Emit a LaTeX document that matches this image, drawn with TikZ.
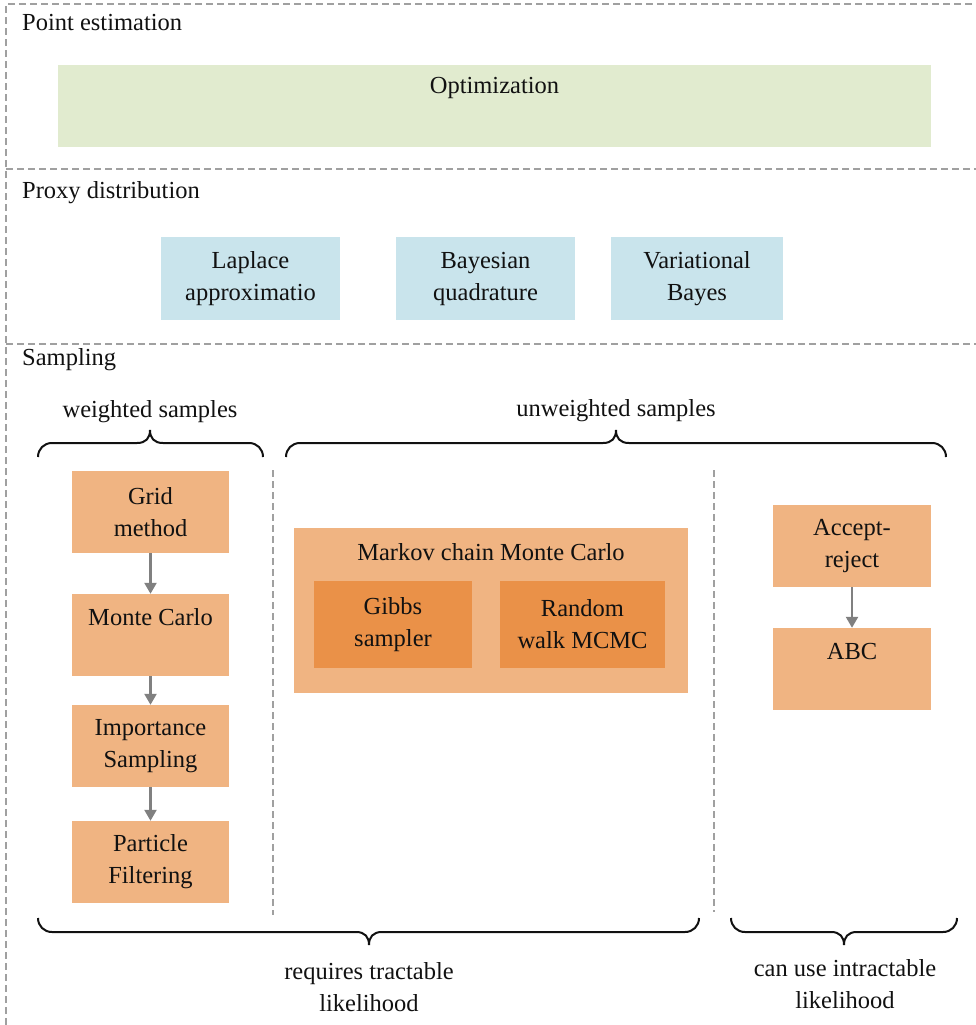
\documentclass[tikz,border=0pt]{standalone}
\usepackage{fontspec}
\setmainfont{Liberation Serif}
\usetikzlibrary{arrows.meta}
\definecolor{greenbox}{HTML}{E1EBCF}
\definecolor{bluebox}{HTML}{C9E4EC}
\definecolor{orangelight}{HTML}{F0B482}
\definecolor{orangedark}{HTML}{EA9148}
\definecolor{txt}{HTML}{111111}
\definecolor{dashgray}{HTML}{A0A0A0}
\definecolor{arrgray}{HTML}{808080}
\newcommand{\mybrace}[5]{%
  \draw[bracestyle] ({#1},{#4+14*(#5)}) .. controls ({#1},{#4+6*(#5)}) and ({#1+6},{#4}) .. ({#1+14},{#4})
    -- ({#3-13},{#4}) .. controls ({#3-4},{#4}) and ({#3},{#4-5*(#5)}) .. ({#3},{#4-13*(#5)})
    .. controls ({#3},{#4-5*(#5)}) and ({#3+4},{#4}) .. ({#3+13},{#4})
    -- ({#2-14},{#4}) .. controls ({#2-6},{#4}) and ({#2},{#4+6*(#5)}) .. ({#2},{#4+14*(#5)});}
\begin{document}
\begin{tikzpicture}[x=1pt,y=-1pt,
  every node/.style={font=\fontsize{24.5}{32}\selectfont, text=txt, inner sep=0pt},
  boxnode/.style={rectangle, align=center, minimum width=#1},
  sep/.style={draw=dashgray, line width=2pt, dash pattern=on 7pt off 4pt},
  bracestyle/.style={draw=txt, line width=2pt},
  arr/.style={draw=arrgray, line width=2.4pt, -{Triangle[width=12pt,length=11pt]}},
  lbl/.style={align=center}]
\useasboundingbox (0,0) rectangle (976,1025);

% frame
\draw[sep] (6,1025) -- (6,4) -- (976,4);
\draw[sep] (6,169) -- (976,169);
\draw[sep] (6,344) -- (976,344);
\draw[sep] (273,470) -- (273,915);
\draw[sep] (714,470) -- (714,912);

% section titles
\node[anchor=west] (t1) at (22,23) {Point estimation};
\node[anchor=west] (t2) at (22,193) {Proxy distribution};
\node[anchor=west] (t3) at (22,360) {Sampling};

% point estimation
\node[boxnode=873pt, minimum height=82pt, fill=greenbox] (opt) at (494.5,106) {};
\node (optt) at (494.5,88) {Optimization};

% proxy
\node[boxnode=179pt, minimum height=83pt, fill=bluebox] (lap) at (250.5,278.5) {Laplace\\approximatio};
\node[boxnode=179pt, minimum height=83pt, fill=bluebox] (bq) at (485.5,278.5) {Bayesian\\quadrature};
\node[boxnode=172pt, minimum height=83pt, fill=bluebox] (vb) at (697,278.5) {Variational\\Bayes};

% weighted column
\node[boxnode=157pt, minimum height=82pt, fill=orangelight] (grid) at (150.5,512) {Grid\\method};
\node[boxnode=157pt, minimum height=82pt, fill=orangelight] (mc) at (150.5,635) {};
\node (mct) at (150.5,617) {Monte Carlo};
\node[boxnode=157pt, minimum height=82pt, fill=orangelight] (is) at (150.5,746) {Importance\\Sampling};
\node[boxnode=157pt, minimum height=82pt, fill=orangelight] (pf) at (150.5,862) {Particle\\Filtering};
\draw[arr] (grid) -- (mc);
\draw[arr] (mc) -- (is);
\draw[arr] (is) -- (pf);

% MCMC
\node[boxnode=394pt, minimum height=165pt, fill=orangelight] (mcmc) at (491,610.5) {};
\node (mcmct) at (491,552) {Markov chain Monte Carlo};
\node[boxnode=158pt, minimum height=87pt, fill=orangedark] (gibbs) at (393,624.5) {Gibbs\\sampler};
\node[boxnode=165pt, minimum height=87pt, fill=orangedark] (rw) at (582.5,624.5) {Random\\walk MCMC};

% likelihood-free
\node[boxnode=158pt, minimum height=82pt, fill=orangelight] (ar) at (852,546) {Accept-\\reject};
\node[boxnode=158pt, minimum height=82pt, fill=orangelight] (abc) at (852,669) {};
\node (abct) at (852,652) {ABC};
\draw[arr] (ar) -- (abc);

% braces
\mybrace{38}{263}{150}{443}{1}
\mybrace{286}{946}{616}{443}{1}
\mybrace{38}{699}{369}{932}{-1}
\mybrace{731}{957}{844}{932}{-1}

\node (ws) at (150,412) {weighted samples};
\node (us) at (616,411) {unweighted samples};
\node[lbl] (rt) at (369,987) {requires tractable\\likelihood};
\node[lbl] (ci) at (845,984) {can use intractable\\likelihood};
\end{tikzpicture}
\end{document}
